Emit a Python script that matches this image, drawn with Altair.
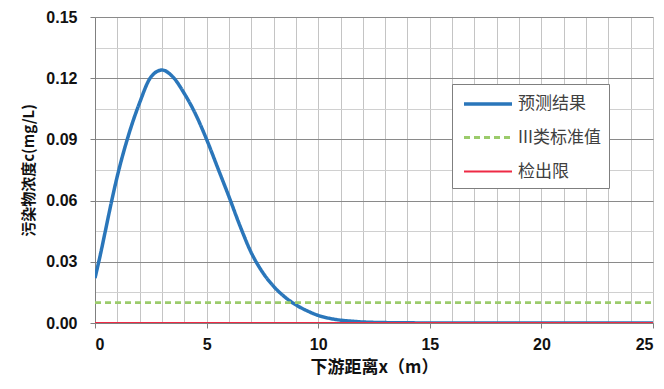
import altair as alt
import pandas as pd

# Predicted concentration along the downstream distance
dist_m = [0, 0.25, 0.5, 0.75, 1, 1.5, 2, 2.5, 3, 3.5, 4, 4.5, 5, 5.5, 6, 6.5, 7,
          7.5, 8, 8.5, 9, 9.5, 10, 10.5, 11, 11.5, 12, 13, 14, 15, 20, 25]
conc_pred = [0.022, 0.034, 0.047, 0.060, 0.072, 0.092, 0.108, 0.1205, 0.124, 0.1205,
             0.1125, 0.1025, 0.090, 0.076, 0.062, 0.0475, 0.0345, 0.025, 0.018,
             0.0128, 0.0089, 0.006, 0.0037, 0.0023, 0.0014, 0.0009, 0.0005,
             0.0002, 0.0001, 0.0, 0.0, 0.0]

# Reference levels
std_x = [0, 25]
std_level = [0.01, 0.01]       # class III standard
det_x = [0, 25]
det_level = [0.0, 0.0]         # detection limit

series_names = ["预测结果", "III类标准值", "检出限"]
series_colors = ["#2A76BA", "#9BCB6B", "#EE2A45"]

rows = []
for x, c in zip(dist_m, conc_pred):
    rows.append({"x": x, "c": c, "s": series_names[0]})
for x, c in zip(std_x, std_level):
    rows.append({"x": x, "c": c, "s": series_names[1]})
for x, c in zip(det_x, det_level):
    rows.append({"x": x, "c": c, "s": series_names[2]})
df = pd.DataFrame(rows)

x_vals = list(range(0, 26))
y_vals = [round(i * 0.015, 3) for i in range(11)]

cjk = "Noto Sans CJK SC"
num_font = "Liberation Sans"

legend_style = dict(
    title=None, orient="none", legendX=357, legendY=67,
    symbolType="M-2.4,0H2.4", symbolSize=400, symbolStrokeWidth=3,
    symbolOffset=16,
    labelFont=cjk, labelFontSize=17, labelColor="#404040",
    labelOffset=18, rowPadding=14,
    fillColor="white", strokeColor="#7F7F7F", padding=8,
)

major_y = "round(datum.value * 1000) % 30 === 0"

lines = alt.Chart(df).mark_line(interpolate="monotone", clip=True).encode(
    x=alt.X("x:Q", scale=alt.Scale(domain=[0, 25], nice=False, zero=False),
            axis=alt.Axis(
                values=x_vals,
                title="下游距离x（m）",
                titleFont=cjk, titleFontSize=17, titleFontWeight="bold",
                titleColor="#111111", titlePadding=7,
                labelFont=num_font, labelFontSize=16, labelFontWeight="bold",
                labelColor="#111111", labelPadding=8,
                labelExpr="datum.value % 5 === 0 ? datum.label : ''",
                grid=True, gridColor="#C4C4C4", gridWidth=1,
                tickSize=5,
                tickColor={"condition": {"test": "datum.value % 5 === 0", "value": "#808080"},
                           "value": "transparent"},
                domainColor="#808080",
            )),
    y=alt.Y("c:Q", scale=alt.Scale(domain=[0, 0.15], nice=False),
            axis=alt.Axis(
                values=y_vals,
                title="污染物浓度c(mg/L)",
                titleFont=cjk, titleFontSize=15, titleFontWeight="bold",
                titleColor="#111111", titlePadding=9,
                labelFont=num_font, labelFontSize=16, labelFontWeight="bold",
                labelColor="#111111", labelPadding=13,
                labelExpr=major_y + " ? format(datum.value, '.2f') : ''",
                grid=True,
                gridColor={"condition": {"test": major_y, "value": "#8A8A8A"},
                           "value": "#D0D0D0"},
                tickSize=5,
                tickColor={"condition": {"test": major_y, "value": "#808080"},
                           "value": "transparent"},
                domainColor="#808080",
            )),
    color=alt.Color("s:N", scale=alt.Scale(domain=series_names, range=series_colors),
                    legend=alt.Legend(**legend_style)),
    strokeDash=alt.StrokeDash("s:N", scale=alt.Scale(domain=series_names,
                                                     range=[[1, 0], [6, 4], [1, 0]]),
                              legend=alt.Legend(**legend_style)),
    strokeWidth=alt.StrokeWidth("s:N", scale=alt.Scale(domain=series_names, range=[3.5, 2.2, 2.5]),
                                legend=None),
    order=alt.Order("x:Q"),
)

chart = lines.properties(
    width=558, height=306,
    autosize=alt.AutoSizeParams(type="none"),
    padding={"left": 95, "top": 17, "right": 11, "bottom": 66},
    background="white",
).configure_view(stroke=None)

chart.save("out.html", embed_options={"renderer": "svg", "actions": False})
